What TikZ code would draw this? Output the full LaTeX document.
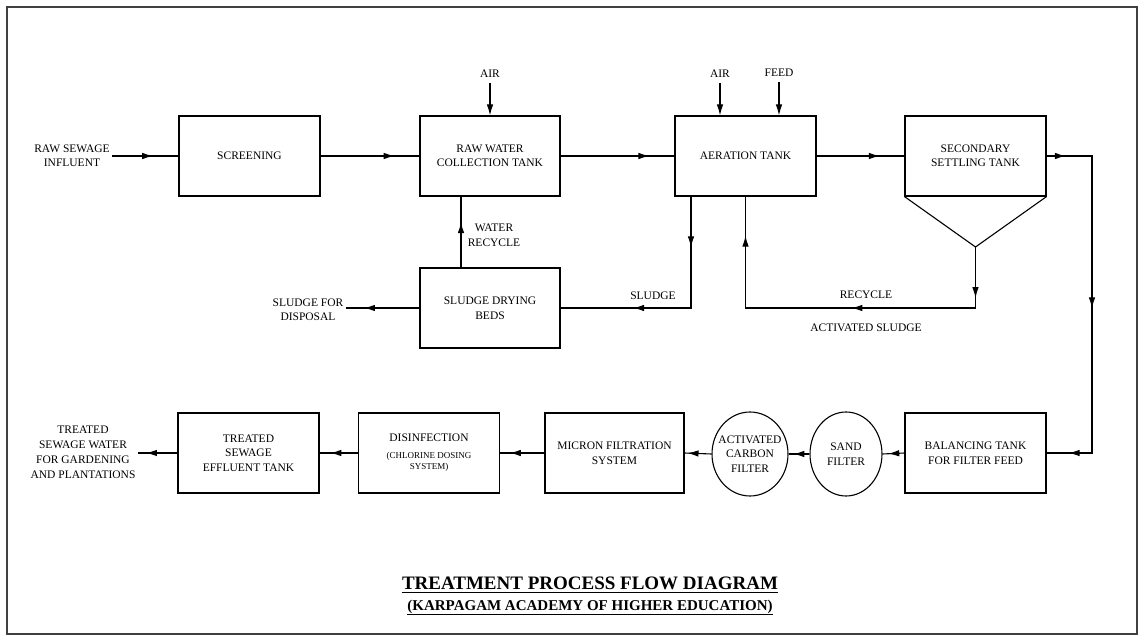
\documentclass[tikz,border=0pt]{standalone}
\usepackage{fontspec}
\setmainfont{Liberation Serif}
\usetikzlibrary{arrows.meta,decorations.markings,shapes.geometric}
\newcommand{\mytxt}{\fontsize{11.5}{14.5}\selectfont}
\newcommand{\mysmall}{\fontsize{9}{11}\selectfont}
\begin{document}
\begin{tikzpicture}[x=1pt,y=-1pt,
  >={Latex[length=11pt,width=6.5pt]},
  box/.style={draw,line width=1.1pt,minimum width=141pt,minimum height=80pt,inner sep=1pt,align=center,font=\mytxt},
  oval/.style={draw,ellipse,line width=1.1pt,inner sep=0pt},
  lbl/.style={align=center,font=\mytxt,inner sep=2pt},
  con/.style={line width=1.1pt},
  arr/.style={postaction={decorate,decoration={markings,mark=at position #1 with {\arrow{>}}}}},
  ttl/.style={inner sep=0pt,font=\bfseries\fontsize{19}{22}\selectfont},
  subttl/.style={inner sep=0pt,font=\bfseries\fontsize{15}{18}\selectfont}
]
\useasboundingbox (0,0) rectangle (1138,636);
\draw[line width=1.3pt,black!75] (7,7) rectangle (1137,634);

% top row
\node[box] (scr) at (249.5,156) {SCREENING};
\node[box,minimum width=140pt] (rwct) at (490,156) {RAW WATER\\COLLECTION TANK};
\node[box] (aer) at (745.5,156) {AERATION TANK};
\node[box] (sst) at (975.5,156) {SECONDARY\\SETTLING TANK};
\coordinate (apex) at (975.5,247);
\draw[line width=1.1pt] (sst.south west) -- (apex) -- (sst.south east);
\node[box,minimum width=140pt] (sdb) at (490,308) {SLUDGE DRYING\\BEDS};

% bottom row
\node[box] (bal) at (975.5,453) {BALANCING TANK\\FOR FILTER FEED};
\node[oval,minimum width=72pt,minimum height=84pt] (sand) at (846,454) {};
\node[lbl] at (sand) {SAND\\FILTER};
\node[oval,minimum width=76pt,minimum height=84pt] (acf) at (750,454) {};
\node[lbl,inner sep=0pt] at (acf) {ACTIVATED\\CARBON\\FILTER};
\node[box,minimum width=139pt] (mic) at (614.5,453) {MICRON FILTRATION\\SYSTEM};
\node[box] (dis) at (429,453) {DISINFECTION\\[2pt]{\mysmall (CHLORINE DOSING}\\[-3pt]{\mysmall SYSTEM)}};
\node[box] (tset) at (248.5,453) {TREATED\\SEWAGE\\EFFLUENT TANK};

% free labels
\node[lbl] (inf) at (72,156) {RAW SEWAGE\\INFLUENT};
\node[lbl,font=\fontsize{11.5}{15}\selectfont] (out) at (83,452.5) {TREATED\\SEWAGE WATER\\FOR GARDENING\\AND PLANTATIONS};
\node[lbl] (disp) at (308,309.5) {SLUDGE FOR\\DISPOSAL};
\node[lbl] (air1) at (490,74) {AIR};
\node[lbl] (air2) at (720,74) {AIR};
\node[lbl] (feed) at (779,73) {FEED};
\node[lbl,font=\fontsize{11.5}{15}\selectfont] (wrl) at (494,235.5) {WATER\\RECYCLE};
\node[lbl] (sll) at (653,296) {SLUDGE};
\node[lbl] (rec) at (866,295) {RECYCLE};
\node[lbl] (act) at (866,328) {ACTIVATED SLUDGE};

\coordinate (rc) at (975.5,308);
\coordinate (rt) at (1092,156);
\coordinate (rb) at (1092,453);

% connectors top
\draw[con,arr=0.62] (inf.east) -- (scr.west);
\draw[con,arr=0.75] (scr.east) -- (rwct.west);
\draw[con,arr=0.78] (rwct.east) -- (aer.west);
\draw[con,arr=0.72] (aer.east) -- (sst.west);
\draw[con,->] ([yshift=-3pt]air1.south) -- (air1.south |- rwct.north);
\draw[con,->] ([yshift=-3pt]air2.south) -- (air2.south |- aer.north);
\draw[con,->] ([yshift=-3pt]feed.south) -- (feed.south |- aer.north);
\draw[con,arr=0.64] ([xshift=-29pt]sdb.north) -- ([xshift=-29pt]rwct.south);
\draw[con,arr=0.21,arr=0.70] ([xshift=-54.5pt]aer.south) |- (sdb.east);
\draw[con,arr=0.75] (sdb.west) -- (sdb.west -| disp.east);
\draw[con,arr=0.127,arr=0.46,arr=0.903] (apex) -- (rc) -| (aer.south);
\draw[con,arr=0.05,arr=0.51,arr=0.943] (sst.east) -- (rt) -- (rb) -- (bal.east);

% connectors bottom
\draw[con,arr=0.74] (bal.west) -- (sand.east);
\draw[con,arr=0.77] (sand.west) -- (acf.east);
\draw[con,arr=0.89] (acf.west) -- (mic.east);
\draw[con,arr=0.78] (mic.west) -- (dis.east);
\draw[con,arr=0.72] (dis.west) -- (tset.east);
\draw[con,arr=0.79] (tset.west) -- (tset.west -| out.east);

% title
\node[ttl] (title) at (590,583) {TREATMENT PROCESS FLOW DIAGRAM};
\node[subttl] (sub) at (590,607) {(KARPAGAM ACADEMY OF HIGHER EDUCATION)};
\draw[line width=1.4pt] ([yshift=-3.5pt]title.base west) -- ([yshift=-3.5pt]title.base east);
\draw[line width=1.2pt] ([yshift=-3.5pt]sub.base west) -- ([yshift=-3.5pt]sub.base east);
\end{tikzpicture}
\end{document}
